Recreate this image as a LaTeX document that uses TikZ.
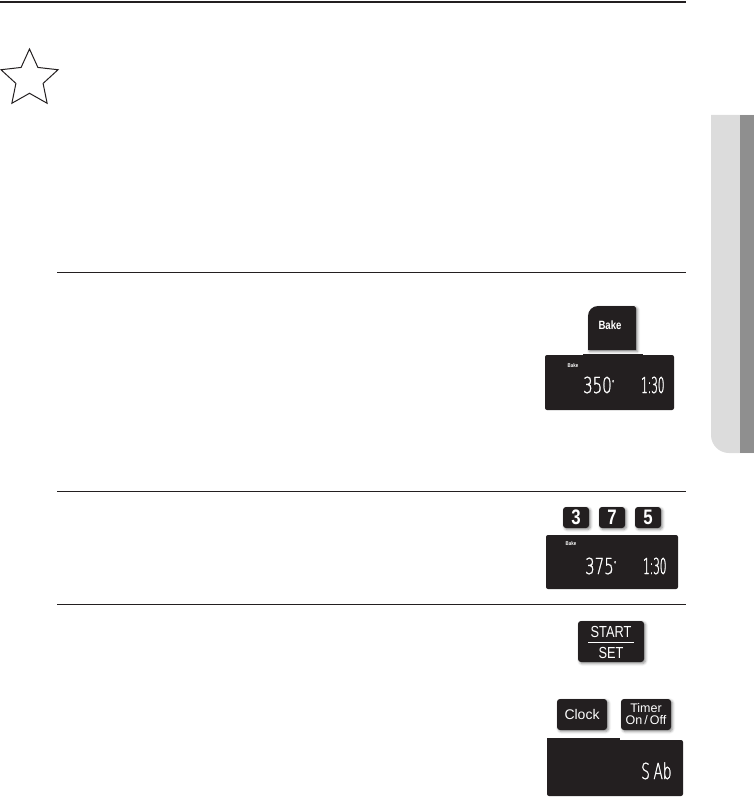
\documentclass[tikz,border=0pt]{standalone}
\usepackage{fontspec}
\setmainfont{Liberation Sans}
\newfontfamily\segfont{DejaVu Sans ExtraLight}[FakeStretch=0.68,FakeBold=1.2]
\newfontfamily\timefont{DejaVu Sans ExtraLight}[FakeStretch=0.47,FakeBold=1.2]
\newfontfamily\sabfont{DejaVu Sans ExtraLight}[FakeStretch=0.62,FakeBold=1.2]
\newfontfamily\condfont{Liberation Sans}[FakeStretch=0.8]
\usetikzlibrary{shapes.geometric,shadows.blur}
\definecolor{ink}{HTML}{231F20}
\definecolor{tablight}{HTML}{DCDCDC}
\definecolor{tabdark}{HTML}{8F8F8F}
\tikzset{
  btn/.style={fill=ink, rounded corners=3pt, inner sep=0pt, text=white,
    blur shadow={shadow xshift=1.5pt, shadow yshift=-1.5pt, shadow blur radius=2.5pt, shadow opacity=45}},
  disp/.style={fill=ink, rounded corners=2pt, inner sep=0pt},
  seg/.style={text=white, inner sep=0pt, font=\segfont\fontsize{22}{22}\selectfont},
  tseg/.style={text=white, inner sep=0pt, font=\timefont\fontsize{22}{22}\selectfont},
  lbl/.style={text=white, inner sep=0pt, font=\condfont\bfseries\fontsize{5.5}{5.5}\selectfont},
  rulel/.style={draw=ink, line width=0.9pt},
  keybtn/.style={btn, minimum width=26pt, minimum height=21pt, font=\condfont\bfseries\fontsize{21}{21}\selectfont}
}
\newcommand{\degmark}{{\fontsize{8}{8}\selectfont\raisebox{7pt}{°}}}
\begin{document}
\begin{tikzpicture}[x=1pt,y=-1pt]
\useasboundingbox (0,0) rectangle (754,797);
% rules
\draw[draw=ink, line width=1.3pt] (0,2) -- (686,2);
\draw[rulel] (57,272) -- (686,272);
\draw[rulel] (57,491) -- (686,491);
\draw[rulel] (57,604) -- (686,604);
% star
\node[star, star points=5, star point ratio=2.1, minimum size=60pt, inner sep=0pt,
  draw=ink, line width=1pt] (star) at (29.5,79) {};
% side tab
\fill[tablight] (754,115) -- (711,115) -- (711,435) arc[start angle=180, end angle=90, radius=18] -- (754,453) -- cycle;
\fill[tabdark] (740,115) rectangle (754,453);
% Bake button
\fill[ink, blur shadow={shadow xshift=1.5pt, shadow yshift=-1.5pt, shadow blur radius=2.5pt, shadow opacity=45}]
  (588,350) -- (588,316) arc[start angle=180, end angle=270, radius=10] -- (634,306) -- (636,308) -- (636,350) -- cycle;
\node[text=white, inner sep=0pt, font=\condfont\bfseries\fontsize{12}{12}\selectfont] (bake) at (610,325) {Bake};
% display 1
\node[disp, minimum width=129pt, minimum height=55pt] (d1) at (609.5,382.5) {};
\fill[ink] (583,353.8) rectangle (643,357);
\node[lbl] (d1l) at (573,366) {Bake};
\node[seg, anchor=base west] (d1t) at (583,393) {350\degmark};
\node[tseg, anchor=base west] (d1c) at (641,393) {1:30};
% 3 7 5 buttons
\node[keybtn] (k3) at (576,517.5) {3};
\node[keybtn] (k7) at (612,517.5) {7};
\node[keybtn] (k5) at (648,517.5) {5};
% display 2
\node[disp, minimum width=132pt, minimum height=54pt] (d2) at (612,562) {};
\node[lbl] (d2l) at (571,544) {Bake};
\node[seg, anchor=base west] (d2t) at (585,574) {375\degmark};
\node[tseg, anchor=base west] (d2c) at (643,574) {1:30};
% START / SET
\node[btn, minimum width=66pt, minimum height=41pt] (ss) at (611,641.5) {};
\node[text=white, inner sep=0pt, font=\condfont\fontsize{16}{16}\selectfont] (start) at (611,632) {START};
\node[text=white, inner sep=0pt, font=\condfont\fontsize{16}{16}\selectfont] (set) at (611,652.5) {SET};
\draw[white, line width=0.9pt] (588,642) -- (634,642);
% Clock / Timer
\node[btn, minimum width=50pt, minimum height=31pt, font=\fontsize{14}{14}\selectfont] (clock) at (582,714.5) {Clock};
\node[btn, minimum width=50pt, minimum height=31pt, align=center, font=\fontsize{12.5}{12}\selectfont] (timer) at (646,714.5) {Timer\\On\,/\,Off};
% display 3
\node[disp, minimum width=136pt, minimum height=56pt] (d3) at (615,768) {};
\fill[ink] (547,738.3) rectangle (620,742);
\node[text=white, inner sep=0pt, font=\sabfont\fontsize{22}{22}\selectfont, anchor=base west] (sab) at (641,779) {S\,Ab};
\end{tikzpicture}
\end{document}
